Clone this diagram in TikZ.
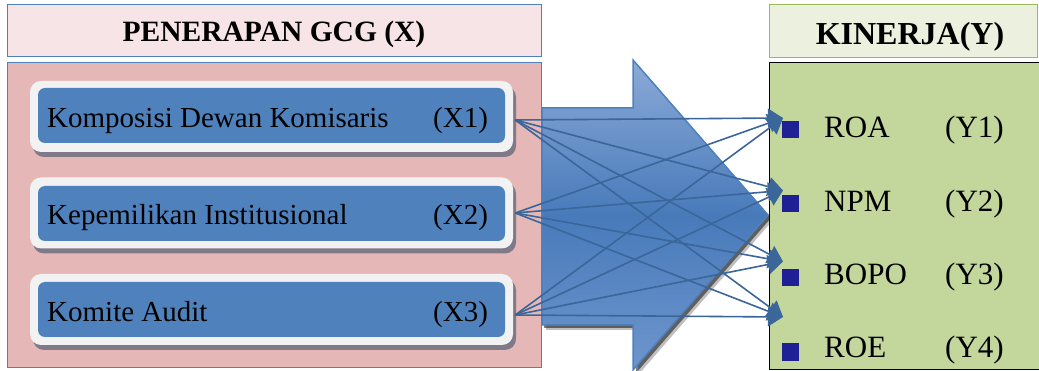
\documentclass[tikz,border=0pt]{standalone}
\usepackage{fontspec}
\setmainfont{Liberation Serif}
\usetikzlibrary{arrows.meta,shadows}
\definecolor{hdrpink}{RGB}{246,228,230}
\definecolor{mainpink}{RGB}{229,184,183}
\definecolor{edgeblue}{RGB}{79,129,189}
\definecolor{boxblue}{RGB}{79,129,189}
\definecolor{boxwhite}{RGB}{242,242,242}
\definecolor{shadowgray}{RGB}{128,122,136}
\definecolor{hdrgreen}{RGB}{235,241,222}
\definecolor{hdrgreenedge}{RGB}{155,187,89}
\definecolor{maingreen}{RGB}{195,214,155}
\definecolor{linkblue}{RGB}{58,102,154}
\definecolor{bulletblue}{RGB}{32,32,150}
\definecolor{arrowtop}{RGB}{140,170,215}
\definecolor{arrowmid}{RGB}{72,122,186}
\definecolor{arrowbot}{RGB}{110,150,205}
\tikzset{
  txt/.style={font=\fontsize{29}{34}\selectfont, inner sep=0pt, anchor=base west},
  rtxt/.style={font=\fontsize{31}{36}\selectfont, inner sep=0pt, anchor=base west},
  hdrtxt/.style={font=\fontsize{29.5}{34}\selectfont\bfseries, inner sep=0pt, anchor=base},
  outerbox/.style={fill=boxwhite, rounded corners=11pt, minimum width=483pt, minimum height=71pt, inner sep=0pt},
  innerbox/.style={fill=boxblue, rounded corners=7pt, minimum width=467pt, minimum height=55pt, inner sep=0pt},
  shadowbox/.style={fill=shadowgray, rounded corners=11pt, minimum width=483pt, minimum height=71pt, inner sep=0pt},
  bullet/.style={fill=bulletblue, minimum size=17pt, inner sep=0pt},
  link/.style={draw=linkblue, line width=1.6pt, -{Triangle[length=15pt,width=19pt]}},
}
\begin{document}
\begin{tikzpicture}[x=1pt,y=-1pt]
\clip (0,0) rectangle (1039,371);
% left headers
\node[draw=edgeblue, line width=0.8pt, fill=hdrpink, minimum width=534pt, minimum height=52pt, inner sep=0pt] (lhdr) at (274,30) {};
\node[hdrtxt] (lhdrtxt) at (274,42) {PENERAPAN GCG (X)};
\node[draw=edgeblue, line width=0.8pt, fill=mainpink, minimum width=534pt, minimum height=305pt, inner sep=0pt] (lmain) at (274,214.5) {};
% boxes
\foreach \n/\y/\iy in {1/116.5/115.5, 2/213/213.5, 3/309.5/309.5}{
  \node[shadowbox] (sh\n) at (274.5,\y+5) {};
  \node[outerbox] (x\n) at (271.5,\y) {};
  \node[innerbox] (ix\n) at (271.5,\iy) {};
}
\node[txt] (t1a) at (47,128) {Komposisi Dewan Komisaris};
\node[txt] (t1b) at (433,128) {(X1)};
\node[txt] (t2a) at (47,225) {Kepemilikan Institusional};
\node[txt] (t2b) at (433,225) {(X2)};
\node[txt] (t3a) at (47,322) {Komite Audit};
\node[txt] (t3b) at (433,322) {(X3)};
% big arrow
\fill[black, opacity=0.25] (546,113) -- (638,113) -- (638,65) -- (773,220) -- (638,375) -- (638,330) -- (546,330) -- cycle;
\fill[black, opacity=0.5] (544,111) -- (636,111) -- (636,63) -- (771,218) -- (636,373) -- (636,328) -- (544,328) -- cycle;
\shade[top color=arrowtop, bottom color=arrowbot, middle color=arrowmid, draw=edgeblue, line width=1.5pt]
  (542,108) -- (633,108) -- (633,60) -- (768,215) -- (633,370) -- (633,325) -- (542,325) -- cycle;
% right headers
\node[draw=hdrgreenedge, line width=0.8pt, fill=hdrgreen, minimum width=268pt, minimum height=53pt, inner sep=0pt] (rhdr) at (903,30.5) {};
\node[hdrtxt, font=\fontsize{32}{36}\selectfont\bfseries] (rhdrtxt) at (910,45) {KINERJA(Y)};
\node[draw=black, line width=0.8pt, fill=maingreen, minimum width=276pt, minimum height=307pt, inner sep=0pt] (rmain) at (907,215.5) {};
% bullets and labels
\node[bullet] (b1) at (790.5,130) {};
\node[bullet] (b2) at (790.5,203.5) {};
\node[bullet] (b3) at (790.5,277.5) {};
\node[bullet] (b4) at (790.5,352) {};
\node[rtxt] (y1a) at (824,138) {ROA};
\node[rtxt] (y1b) at (945,138) {(Y1)};
\node[rtxt] (y2a) at (824,212) {NPM};
\node[rtxt] (y2b) at (945,212) {(Y2)};
\node[rtxt] (y3a) at (824,285) {BOPO};
\node[rtxt] (y3b) at (945,285) {(Y3)};
\node[rtxt] (y4a) at (824,358) {ROE};
\node[rtxt] (y4b) at (945,358) {(Y4)};
% connector ends
\coordinate (s1) at ([xshift=2pt,yshift=-3.5pt]x1.east);
\coordinate (s2) at ([xshift=2pt]x2.east);
\coordinate (s3) at ([xshift=2pt,yshift=-5.5pt]x3.east);
\coordinate (e1) at ([xshift=-7.5pt,yshift=12pt]b1.center);
\coordinate (e2) at ([xshift=-7.5pt,yshift=13pt]b2.center);
\coordinate (e3) at ([xshift=-7.5pt,yshift=16pt]b3.center);
\coordinate (e4) at ([xshift=-7.5pt,yshift=35pt]b4.center);
\foreach \s in {s1,s2,s3}{
  \foreach \e in {e1,e2,e3,e4}{
    \draw[link] (\s) -- (\e);
  }
}
\end{tikzpicture}
\end{document}
